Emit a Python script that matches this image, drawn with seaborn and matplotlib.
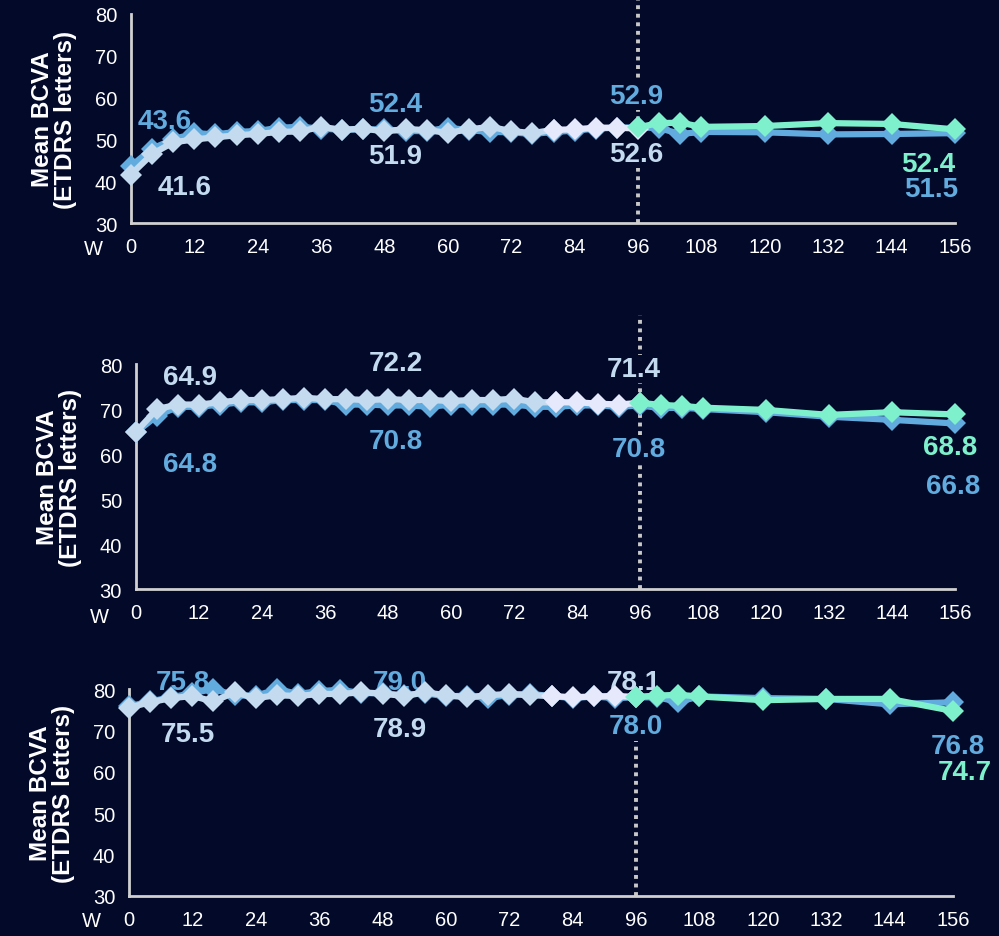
import matplotlib
matplotlib.use("Agg")
import matplotlib.pyplot as plt
import seaborn as sns

# weeks
weeks_core = [0, 4, 8, 12, 16, 20, 24, 28, 32, 36, 40, 44, 48, 52, 56, 60, 64, 68, 72, 76, 80, 84, 88, 92, 96]
weeks_ext = [100, 104, 108, 120, 132, 144, 156]
weeks_blue = weeks_core + weeks_ext
weeks_green = [96] + weeks_ext
x_ticks = [0, 12, 24, 36, 48, 60, 72, 84, 96, 108, 120, 132, 144, 156]
y_ticks = [30, 40, 50, 60, 70, 80]

# panel 1
p1_blue = [43.6, 47.8, 50.0, 51.5, 51.2, 51.8, 52.0, 52.8, 53.0, 52.6, 52.3, 52.4, 52.4,
           52.0, 52.0, 52.8, 52.2, 51.8, 51.7, 51.3, 51.8, 52.1, 52.6, 52.8, 52.9,
           52.7, 51.3, 51.8, 51.7, 51.2, 51.3, 51.5]
p1_pale = [41.6, 46.5, 49.3, 50.0, 50.5, 51.0, 51.3, 51.8, 51.9, 53.0, 52.3, 52.6, 51.9,
           52.5, 52.2, 51.6, 52.4, 53.0, 52.0, 51.5, 52.3, 52.4, 52.8, 52.8, 52.6]
p1_green = [52.9, 53.9, 54.0, 53.0, 53.2, 53.9, 53.7, 52.4]

# panel 2
p2_blue = [64.8, 68.5, 70.5, 70.5, 71.0, 71.5, 71.5, 72.0, 72.0, 72.0, 71.0, 71.0, 70.8,
           70.8, 70.5, 71.0, 71.0, 71.0, 71.0, 70.5, 70.5, 70.8, 70.8, 70.5, 70.8,
           70.2, 70.3, 70.0, 69.3, 68.3, 67.6, 66.8]
p2_pale = [64.9, 70.0, 71.0, 71.0, 71.5, 72.0, 72.0, 72.2, 72.5, 72.2, 72.2, 72.0, 72.2,
           72.0, 72.0, 71.8, 72.0, 72.0, 72.3, 71.5, 71.5, 71.5, 71.2, 71.0, 71.4]
p2_green = [71.4, 70.9, 70.7, 70.3, 69.8, 68.7, 69.3, 68.8]

# panel 3
p3_blue = [75.8, 77.0, 78.0, 79.0, 80.0, 78.5, 78.3, 80.0, 78.8, 79.5, 79.8, 79.0, 79.0,
           78.5, 79.0, 78.2, 78.4, 77.8, 78.6, 78.8, 78.3, 77.8, 78.2, 77.8, 78.0,
           78.0, 76.9, 78.2, 77.8, 77.6, 76.3, 76.8]
p3_pale = [75.5, 76.8, 77.8, 78.3, 77.0, 79.2, 77.8, 78.5, 78.3, 78.8, 78.8, 79.2, 78.9,
           78.3, 79.2, 78.5, 78.0, 78.5, 78.8, 78.5, 78.3, 78.0, 78.2, 78.3, 78.1]
p3_green = [78.1, 78.4, 78.6, 78.2, 77.3, 77.6, 77.6, 74.7]

# value labels: (text, week, y, colour key)
p1_labels = [("43.6", 6.4, 54.4, "blue"), ("41.6", 10.2, 38.6, "pale"),
             ("52.4", 50, 58.5, "blue"), ("51.9", 50, 46.0, "pale"),
             ("52.9", 95.6, 60.4, "blue"), ("52.6", 95.6, 46.5, "pale"),
             ("52.4", 151, 44.1, "green"), ("51.5", 151.5, 38.1, "blue")]
p2_labels = [("64.9", 10.3, 77.1, "pale"), ("64.8", 10.3, 57.8, "blue"),
             ("72.2", 49.5, 80.2, "pale"), ("70.8", 49.5, 62.9, "blue"),
             ("71.4", 94.9, 78.9, "pale"), ("70.8", 95.8, 61.1, "blue"),
             ("68.8", 155, 61.6, "green"), ("66.8", 155.7, 52.9, "blue")]
p3_labels = [("75.8", 10.2, 81.7, "blue"), ("75.5", 11.2, 69.1, "pale"),
             ("79.0", 51.3, 81.7, "blue"), ("78.9", 51.3, 70.3, "pale"),
             ("78.1", 95.5, 81.7, "pale"), ("78.0", 95.9, 71.1, "blue"),
             ("76.8", 157, 66.2, "blue"), ("74.7", 158.3, 60.0, "green")]

bg = "#020929"
colors = {"blue": "#62abde", "pale": "#c3daef", "lav": "#e6e9fc", "green": "#7ff0cc"}
spine_c = "#d0d0d0"

sns.set_style("white")
plt.rcParams["font.family"] = ["Liberation Sans", "DejaVu Sans"]

fig = plt.figure(figsize=(9.99, 9.37), dpi=100, facecolor=bg)

panels = [
    ([0.1311, 0.7609, 0.8248, 0.2231], p1_blue, p1_pale, p1_green, p1_labels, (0, 1.075)),
    ([0.1361, 0.3703, 0.8198, 0.2401], p2_blue, p2_pale, p2_green, p2_labels, (0, 1.22)),
    ([0.1291, 0.0427, 0.8248, 0.2209], p3_blue, p3_pale, p3_green, p3_labels, (0, 0.75)),
]

for rect, blue, pale, green, labels, vspan in panels:
    ax = fig.add_axes(rect)
    ax.set_facecolor(bg)

    # dotted marker at week 96
    ax.axvline(96, ymin=vspan[0], ymax=vspan[1], color="#c8c8c8", lw=2.8,
               ls=(0, (1, 1.2)), clip_on=False, zorder=1)

    kw = dict(marker="D", markersize=11, markeredgewidth=0, linewidth=4.5,
              ax=ax, clip_on=False, legend=False)
    sns.lineplot(x=weeks_blue, y=blue, color=colors["blue"], zorder=4, **kw)
    sns.lineplot(x=weeks_core[:21], y=pale[:21], color=colors["pale"], zorder=5, **kw)
    sns.lineplot(x=weeks_core[20:], y=pale[20:], color=colors["lav"], zorder=6, **kw)
    sns.lineplot(x=weeks_green, y=green, color=colors["green"], zorder=7, **kw)

    for txt, wx, wy, ck in labels:
        ax.text(wx, wy, txt, color=colors[ck], fontsize=20, fontweight="bold",
                ha="center", va="center", zorder=3,
                bbox=dict(facecolor=bg, edgecolor="none", pad=1.0))

    ax.set_xlim(0, 156)
    ax.set_ylim(30, 80)
    ax.set_xticks(x_ticks)
    ax.set_yticks(y_ticks)
    ax.tick_params(axis="both", colors=spine_c, labelcolor="white", labelsize=14.5,
                   length=6, width=1.5, direction="out", pad=4)
    for side in ["top", "right"]:
        ax.spines[side].set_visible(False)
    for side in ["left", "bottom"]:
        ax.spines[side].set_color(spine_c)
        ax.spines[side].set_linewidth(2)
    ax.set_xlabel("")
    ax.set_ylabel("Mean BCVA\n(ETDRS letters)", color="white", fontsize=17.5,
                  fontweight="bold", labelpad=13, linespacing=1.0)
    ax.text(-0.045, -0.12, "W", transform=ax.transAxes, color="white",
            fontsize=14.5, ha="center", va="center")

fig.savefig("out.png", dpi=100, facecolor=bg)
